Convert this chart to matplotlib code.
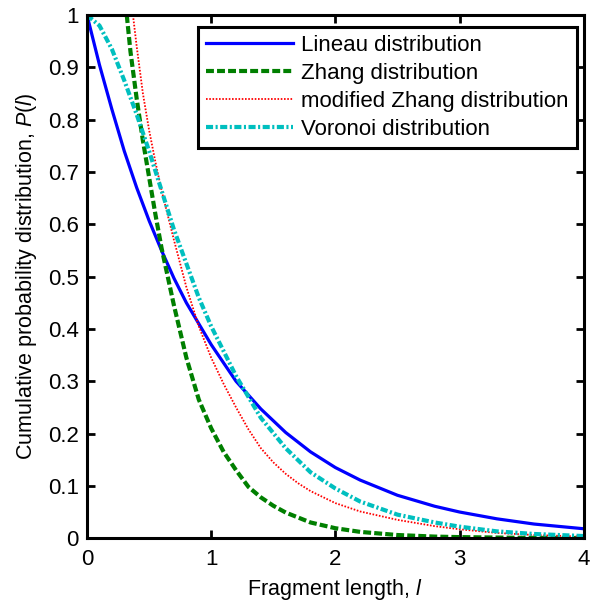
import numpy as np
import matplotlib.pyplot as plt

plt.rcParams['font.family'] = ['Liberation Sans', 'DejaVu Sans']
plt.rcParams['mathtext.fontset'] = 'custom'
plt.rcParams['mathtext.rm'] = 'Liberation Sans'
plt.rcParams['mathtext.it'] = 'Liberation Sans:italic'

# values
lineau_x = [0, 0.1, 0.2, 0.3, 0.4, 0.5, 0.6, 0.7, 0.8, 0.9, 1.0, 1.2, 1.4, 1.6, 1.8,
            2.0, 2.2, 2.5, 2.8, 3.0, 3.3, 3.6, 4.0]
lineau_y = [1.0, 0.905, 0.82, 0.74, 0.67, 0.607, 0.55, 0.497, 0.45, 0.41, 0.37, 0.30,
            0.247, 0.202, 0.165, 0.135, 0.111, 0.082, 0.061, 0.05, 0.037, 0.027, 0.018]

zhang_x = [0.32, 0.35, 0.4, 0.45, 0.5, 0.55, 0.6, 0.7, 0.8, 0.9, 1.0, 1.1, 1.2, 1.3,
           1.4, 1.5, 1.6, 1.8, 2.0, 2.2, 2.5, 2.8, 3.0, 3.5, 4.0]
zhang_y = [1.0, 0.93, 0.84, 0.76, 0.69, 0.62, 0.555, 0.445, 0.345, 0.265, 0.21, 0.165,
           0.13, 0.098, 0.078, 0.062, 0.049, 0.03, 0.019, 0.012, 0.006, 0.003, 0.002,
           0.0006, 0.0002]

mzhang_x = [0.37, 0.4, 0.45, 0.5, 0.55, 0.6, 0.7, 0.8, 0.9, 1.0, 1.1, 1.2, 1.3, 1.4,
            1.5, 1.6, 1.7, 1.8, 2.0, 2.2, 2.5, 2.8, 3.0, 3.3, 3.6, 4.0]
mzhang_y = [1.0, 0.94, 0.85, 0.78, 0.72, 0.665, 0.57, 0.48, 0.405, 0.345, 0.295, 0.25,
            0.208, 0.172, 0.145, 0.123, 0.105, 0.09, 0.067, 0.051, 0.035, 0.023, 0.017,
            0.01, 0.006, 0.003]

voronoi_x = [0, 0.1, 0.2, 0.3, 0.4, 0.5, 0.6, 0.7, 0.8, 0.9, 1.0, 1.2, 1.4, 1.6, 1.8,
             2.0, 2.2, 2.5, 2.8, 3.0, 3.3, 3.6, 4.0]
voronoi_y = [1.0, 0.98, 0.935, 0.875, 0.81, 0.74, 0.665, 0.59, 0.525, 0.46, 0.405, 0.31,
             0.23, 0.172, 0.126, 0.095, 0.07, 0.045, 0.03, 0.022, 0.013, 0.008, 0.004]

xticks = [0, 1, 2, 3, 4]
yticks = [0, 0.1, 0.2, 0.3, 0.4, 0.5, 0.6, 0.7, 0.8, 0.9, 1]
ytick_labels = ['0', '0.1', '0.2', '0.3', '0.4', '0.5', '0.6', '0.7', '0.8', '0.9', '1']

fig = plt.figure(figsize=(5.92, 6.04), dpi=100)
ax = fig.add_axes([0.147, 0.109, 0.839, 0.866])

ax.plot(lineau_x, lineau_y, color='#0000ff', lw=2.3, label='Lineau distribution')
ax.plot(zhang_x, zhang_y, color='#007f00', lw=3, dashes=(1.9, 0.75), label='Zhang distribution')
ax.plot(mzhang_x, mzhang_y, color='#ff0000', lw=1.3, dashes=(0.9, 0.9), label='modified Zhang distribution')
ax.plot(voronoi_x, voronoi_y, color='#00bfbf', lw=3, dashes=(1.7, 0.6, 0.5, 0.6), label='Voronoi distribution')

ax.set_xlim(0, 4)
ax.set_ylim(0, 1)
ax.set_xticks(xticks)
ax.set_yticks(yticks)
ax.set_yticklabels(ytick_labels)
ax.tick_params(direction='in', length=6, width=2, top=True, right=True, labelsize=16)
ax.tick_params(axis='x', pad=8)
ax.tick_params(axis='y', pad=6)
for s in ax.spines.values():
    s.set_linewidth(2.2)

ax.set_xlabel(r'Fragment length, $\mathit{l}$', fontsize=15.5, labelpad=5)
ax.set_ylabel(r'Cumulative probability distribution, $\mathit{P}$($\mathit{l}$)', fontsize=15.5, labelpad=6)

leg = ax.legend(loc='upper right', bbox_to_anchor=(0.986, 0.977), borderaxespad=0,
                fontsize=16, handlelength=3.9, handletextpad=0.4, labelspacing=0.32,
                borderpad=0.35, fancybox=False, framealpha=1)
leg.get_frame().set_edgecolor('black')
leg.get_frame().set_linewidth(2.2)

fig.savefig('out.png', dpi=100)
